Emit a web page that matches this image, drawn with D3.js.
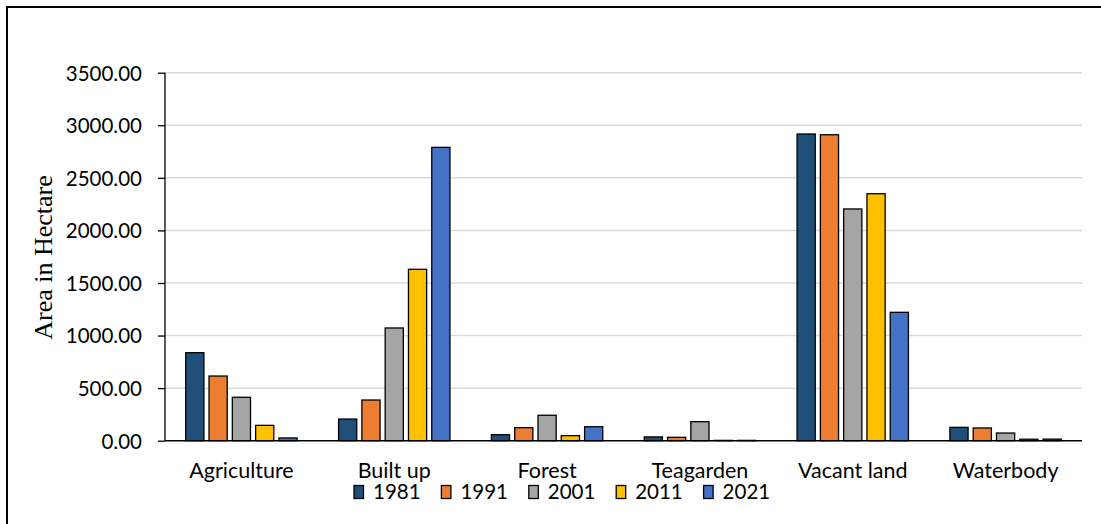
<!DOCTYPE html>
<html>
<head>
<meta charset="utf-8">
<script src="https://cdn.jsdelivr.net/npm/d3@7"></script>
<style>
  html, body { margin: 0; padding: 0; background: #fff; }
  svg { display: block; }
</style>
</head>
<body>
<svg id="chart" width="1101" height="524"></svg>
<script>
// Land use / land cover area (hectare) by class and year
const categories = ["Agriculture", "Built up", "Forest", "Teagarden", "Vacant land", "Waterbody"];
const years = ["1981", "1991", "2001", "2011", "2021"];
const v1981 = [837, 206, 57, 36, 2917, 127];
const v1991 = [615, 387, 124, 32, 2910, 121];
const v2001 = [413, 1072, 242, 181, 2204, 73];
const v2011 = [146, 1630, 48, 3, 2349, 14];
const v2021 = [26, 2790, 133, 3, 1221, 15];
const yTicks = [0, 500, 1000, 1500, 2000, 2500, 3000, 3500];
const colors = ["#1F4E79", "#ED7D31", "#A5A5A5", "#FFC000", "#4472C4"];

const series = [v1981, v1991, v2001, v2011, v2021];
const rows = [];
categories.forEach((c, ci) => {
  years.forEach((yr, yi) => rows.push({ category: c, year: yr, value: series[yi][ci], idx: yi }));
});

const svg = d3.select("#chart");
const plotLeft = 165, plotRight = 1082, plotTop = 72.7, plotBottom = 440.7;
const tickFont = "Lato, 'Open Sans', sans-serif";
const tickSize = 20.5;

// outer frame
svg.append("rect")
  .attr("x", 7).attr("y", 7)
  .attr("width", 1120).attr("height", 540)
  .attr("fill", "none").attr("stroke", "#000").attr("stroke-width", 2);

const x0 = d3.scaleBand().domain(categories).range([plotLeft, plotRight]).paddingInner(0).paddingOuter(0);
const x1 = d3.scaleBand().domain(years).range([0, x0.bandwidth()]).paddingInner(0.22).paddingOuter(0.89);
const y = d3.scaleLinear().domain([0, 3500]).range([plotBottom, plotTop]);

// gridlines
svg.append("g")
  .selectAll("line")
  .data(yTicks.filter(t => t > 0))
  .join("line")
  .attr("x1", plotLeft).attr("x2", plotRight)
  .attr("y1", d => y(d)).attr("y2", d => y(d))
  .attr("stroke", "#D9D9D9").attr("stroke-width", 1.5);

// y axis
const yAxis = svg.append("g")
  .attr("transform", `translate(${plotLeft},0)`)
  .call(d3.axisLeft(y).tickValues(yTicks).tickFormat(d3.format(".2f")).tickSize(7).tickPadding(16));
yAxis.select(".domain").attr("stroke", "#000").attr("stroke-width", 1.3).attr("d", `M0,${plotTop}V${plotBottom}`);
yAxis.selectAll(".tick line").attr("stroke", "#000").attr("stroke-width", 1.3);
yAxis.selectAll(".tick text")
  .attr("font-family", tickFont).attr("font-size", tickSize).attr("fill", "#000")
  .attr("dy", "0.36em");

// bars
svg.append("g")
  .selectAll("rect")
  .data(rows)
  .join("rect")
  .attr("x", d => x0(d.category) + x1(d.year))
  .attr("y", d => y(d.value))
  .attr("width", x1.bandwidth())
  .attr("height", d => plotBottom - y(d.value))
  .attr("fill", d => colors[d.idx])
  .attr("stroke", "#000").attr("stroke-width", 1.3);

// x axis baseline
svg.append("line")
  .attr("x1", plotLeft).attr("x2", plotRight)
  .attr("y1", plotBottom).attr("y2", plotBottom)
  .attr("stroke", "#000").attr("stroke-width", 1.5);

// category labels
svg.append("g")
  .selectAll("text")
  .data(categories)
  .join("text")
  .attr("x", d => x0(d) + x0.bandwidth() / 2)
  .attr("y", 478)
  .attr("text-anchor", "middle")
  .attr("font-family", tickFont).attr("font-size", 21.5).attr("fill", "#000")
  .text(d => d);

// y axis title
svg.append("text")
  .attr("transform", "translate(52,257.5) rotate(-90)")
  .attr("text-anchor", "middle")
  .attr("font-family", "'Liberation Serif', 'Times New Roman', serif")
  .attr("font-size", 26).attr("fill", "#000")
  .text("Area in Hectare");

// legend
const legend = svg.append("g")
  .selectAll("g")
  .data(years)
  .join("g")
  .attr("transform", (d, i) => `translate(${354 + i * 87.4},485.5)`);
legend.append("rect")
  .attr("width", 9.5).attr("height", 13)
  .attr("fill", (d, i) => colors[i])
  .attr("stroke", "#000").attr("stroke-width", 1.3);
legend.append("text")
  .attr("x", 19).attr("y", 13.5)
  .attr("font-family", tickFont).attr("font-size", tickSize).attr("fill", "#000")
  .text(d => d);
</script>
</body>
</html>
